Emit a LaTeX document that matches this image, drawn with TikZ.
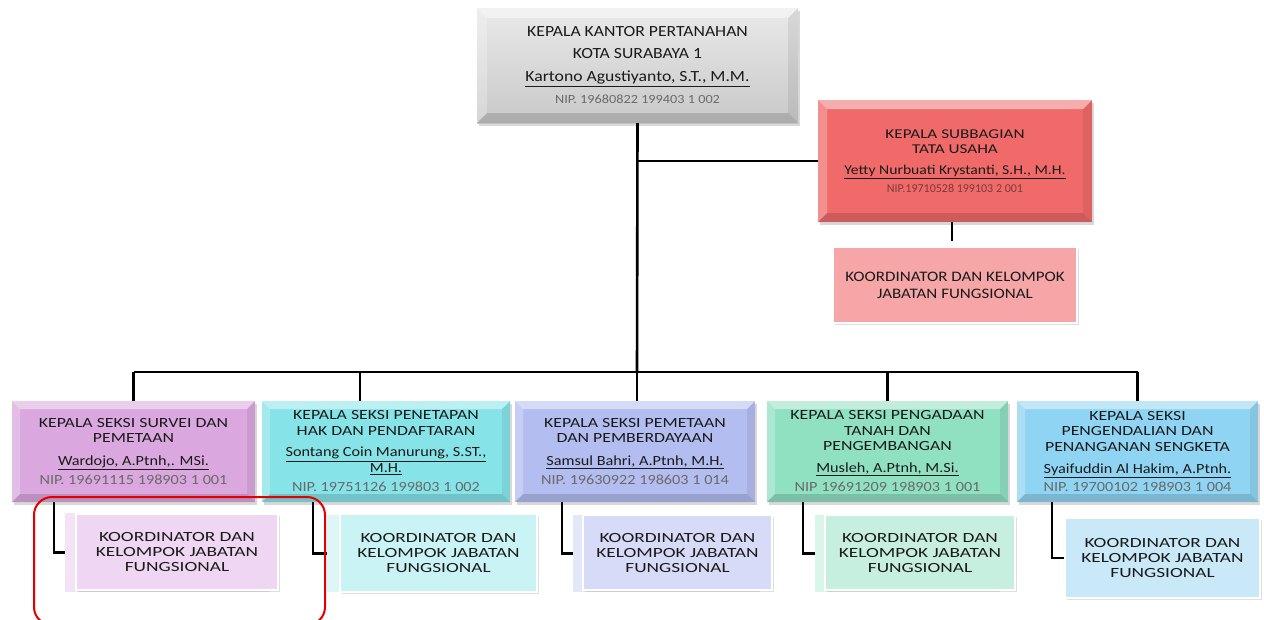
\documentclass[tikz,border=0pt]{standalone}
\usepackage{fontspec}
\setmainfont{Carlito}
\newfontfamily\fsA{Carlito}[FakeStretch=1.14]
\newfontfamily\fsC{Carlito}[FakeStretch=1.27]
\newfontfamily\fsD{Carlito}[FakeStretch=1.16]
\newfontfamily\fsE{Carlito}[FakeStretch=1.38]
\newfontfamily\fsF{Carlito}[FakeStretch=1.17]
\usetikzlibrary{shadows}
\definecolor{cGray}{HTML}{D3D3D3}
\definecolor{cRed}{HTML}{F06A6A}
\definecolor{cRedL}{HTML}{F6A6A6}
\definecolor{cPur}{HTML}{DAA8DE}
\definecolor{cPurL}{HTML}{EFD6F2}
\definecolor{cPurB}{HTML}{F4E2F5}
\definecolor{cCya}{HTML}{86E3E8}
\definecolor{cCyaL}{HTML}{C9F3F5}
\definecolor{cCyaB}{HTML}{DDF7F8}
\definecolor{cLav}{HTML}{B3BDF0}
\definecolor{cLavL}{HTML}{D7DBF7}
\definecolor{cLavB}{HTML}{E4E7F9}
\definecolor{cGrn}{HTML}{90E0C2}
\definecolor{cGrnL}{HTML}{C6EFDF}
\definecolor{cGrnB}{HTML}{DAF5EA}
\definecolor{cBlu}{HTML}{8FD4F2}
\definecolor{cBluL}{HTML}{C9E9F9}
\definecolor{nipgray}{HTML}{6A6A6A}
\definecolor{nipred}{HTML}{7A3A3A}
\definecolor{txt}{HTML}{1A1A1A}
\newcommand\nm[1]{{\fsD\fontsize{14}{16}\selectfont\underline{#1}}}
\newcommand\nip[1]{{\fsD\fontsize{14}{16}\selectfont\color{nipgray}#1}}
\begin{document}
\begin{tikzpicture}[x=1pt,y=-1pt,
  bev/.style={path picture={
    \coordinate (q1) at (path picture bounding box.north west);
    \coordinate (q2) at (path picture bounding box.north east);
    \coordinate (q3) at (path picture bounding box.south east);
    \coordinate (q4) at (path picture bounding box.south west);
    \fill[white,opacity=.45] (q1) -- (q2) -- ([shift={(-#1,-#1)}]q2) -- ([shift={(#1,-#1)}]q1) -- cycle;
    \fill[white,opacity=.25] (q1) -- ([shift={(#1,-#1)}]q1) -- ([shift={(#1,#1)}]q4) -- (q4) -- cycle;
    \fill[black,opacity=.07] (q2) -- (q3) -- ([shift={(-#1,#1)}]q3) -- ([shift={(-#1,-#1)}]q2) -- cycle;
    \fill[black,opacity=.14] (q4) -- ([shift={(#1,#1)}]q4) -- ([shift={(-#1,#1)}]q3) -- (q3) -- cycle;
  }},
  bev/.default=8pt,
  box/.style={draw=none, inner sep=0pt, align=center, text=txt, bev,
    drop shadow={shadow xshift=2pt, shadow yshift=-3pt, opacity=.3}},
  subbox/.style={draw=white, line width=1.5pt, inner sep=0pt, align=center, text=txt,
    drop shadow={shadow xshift=2pt, shadow yshift=-2pt, opacity=.25}},
  back/.style={draw=none, inner sep=0pt},
  conn/.style={draw=black, line width=2.6pt},
  topfont/.style={font=\fsA\fontsize{15.5}{22}\selectfont},
  secfont/.style={font=\fsC\fontsize{14}{15.5}\selectfont},
  subfont/.style={font=\fsE\fontsize{14}{15}\selectfont},
  redsubfont/.style={font=\fsF\fontsize{14.5}{17}\selectfont},
]
\useasboundingbox (0,0) rectangle (1264,619);
\fill[white] (0,0) rectangle (1264,619);

% top
\node[box, bev=10pt, top color=cGray!50!white, bottom color=cGray!95!black, minimum width=321pt, minimum height=115pt, topfont] (kepala) at (637.5,65.5)
 {KEPALA KANTOR PERTANAHAN\\KOTA SURABAYA 1\\[1pt]\underline{Kartono Agustiyanto, S.T., M.M.}\\{\fontsize{12.5}{14}\selectfont\color{nipgray}NIP. 19680822 199403 1 002}};

% tata usaha
\node[box, bev=9pt, fill=cRed, minimum width=274pt, minimum height=122pt, font=\fsC\fontsize{13.5}{15}\selectfont] (tu) at (955,161)
 {KEPALA SUBBAGIAN\\TATA USAHA\\[6pt]{\fsD\fontsize{13.5}{15}\selectfont\underline{Yetty Nurbuati Krystanti, S.H., M.H.}}\\[3pt]{\rmfamily\fontsize{12}{14}\selectfont\color{nipred}NIP.19710528 199103 2 001}};
\node[subbox, fill=cRedL, minimum width=244pt, minimum height=76pt, redsubfont] (tuk) at (955,285)
 {KOORDINATOR DAN KELOMPOK\\JABATAN FUNGSIONAL};

% sections
\node[box, fill=cPur, minimum width=243pt, minimum height=101pt, secfont] (s1) at (133.5,451.5)
 {KEPALA SEKSI SURVEI DAN\\PEMETAAN\\[7pt]\nm{Wardojo, A.Ptnh,. MSi.}\\[4pt]\nip{NIP. 19691115 198903 1 001}};
\node[box, fill=cCya, minimum width=248pt, minimum height=101pt, secfont] (s2) at (386,451.5)
 {KEPALA SEKSI PENETAPAN\\HAK DAN PENDAFTARAN\\[6pt]\nm{Sontang Coin Manurung, S.ST.,}\\\nm{M.H.}\\[4pt]\nip{NIP. 19751126 199803 1 002}};
\node[box, fill=cLav, minimum width=240pt, minimum height=101pt, secfont] (s3) at (635,451.5)
 {KEPALA SEKSI PEMETAAN\\DAN PEMBERDAYAAN\\[7pt]\nm{Samsul Bahri, A.Ptnh, M.H.}\\[4pt]\nip{NIP. 19630922 198603 1 014}};
\node[box, fill=cGrn, minimum width=241pt, minimum height=101pt, secfont] (s4) at (887.5,451.5)
 {KEPALA SEKSI PENGADAAN\\TANAH DAN\\PENGEMBANGAN\\[6pt]\nm{Musleh, A.Ptnh, M.Si.}\\[4pt]\nip{NIP 19691209 198903 1 001}};
\node[box, fill=cBlu, minimum width=241pt, minimum height=101pt, secfont] (s5) at (1137.5,451.5)
 {KEPALA SEKSI\\PENGENDALIAN DAN\\PENANGANAN SENGKETA\\[7pt]\nm{Syaifuddin Al Hakim, A.Ptnh.}\\[2pt]\nip{NIP. 19700102 198903 1 004}};

% sub boxes
\node[back, fill=cPurB, minimum width=205pt, minimum height=79pt] (k1b) at (167.5,552.5) {};
\node[subbox, fill=cPurL, minimum width=202pt, minimum height=76pt, subfont] (k1) at (177,552) {KOORDINATOR DAN\\KELOMPOK JABATAN\\FUNGSIONAL};
\node[back, fill=cCyaB, minimum width=173pt, minimum height=77pt] (k2b) at (413.5,553.5) {};
\node[subbox, fill=cCyaL, minimum width=197pt, minimum height=78pt, subfont] (k2) at (438.5,553) {KOORDINATOR DAN\\KELOMPOK JABATAN\\FUNGSIONAL};
\node[back, fill=cLavB, minimum width=187pt, minimum height=77pt] (k3b) at (666.5,553.5) {};
\node[subbox, fill=cLavL, minimum width=189pt, minimum height=75pt, subfont] (k3) at (677.5,552.5) {KOORDINATOR DAN\\KELOMPOK JABATAN\\FUNGSIONAL};
\node[back, fill=cGrnB, minimum width=185pt, minimum height=77pt] (k4b) at (907.5,553.5) {};
\node[subbox, fill=cGrnL, minimum width=190pt, minimum height=75pt, subfont] (k4) at (920,552.5) {KOORDINATOR DAN\\KELOMPOK JABATAN\\FUNGSIONAL};
\node[subbox, fill=cBluL, minimum width=195pt, minimum height=80pt, subfont] (k5) at (1162.5,558) {KOORDINATOR DAN\\KELOMPOK JABATAN\\FUNGSIONAL};

% connectors
\coordinate (bus) at (637,372);
\coordinate (d2) at (360,372);
\coordinate (tuk1) at (952,241);
\draw[conn] (kepala.south) -- (bus);
\draw[conn] (tu.west -| kepala.south) -- (tu.west);
\draw[conn] (tu.south -| tuk1) -- (tuk1);
\draw[conn] (s1.north |- bus) -- (s5.north |- bus);
\draw[conn] (s1.north |- bus) -- (s1.north);
\draw[conn] (d2) -- (d2 |- s2.north);
\draw[conn] (bus) -- (bus |- s3.north);
\draw[conn] (s4.north |- bus) -- (s4.north);
\draw[conn] (s5.north |- bus) -- (s5.north);
\draw[conn] ([xshift=42pt]s1.south west) |- (k1b.west);
\draw[conn] ([xshift=51pt]s2.south west) |- (k2b.west);
\draw[conn] ([xshift=47pt]s3.south west) |- (k3b.west);
\draw[conn] ([xshift=36pt]s4.south west) |- (k4b.west);
\draw[conn] ([xshift=35pt]s5.south west) |- (k5.west);

% highlight
\draw[red!90!black, line width=2pt, rounded corners=18pt] (34,497) rectangle (325,625);
\end{tikzpicture}
\end{document}
